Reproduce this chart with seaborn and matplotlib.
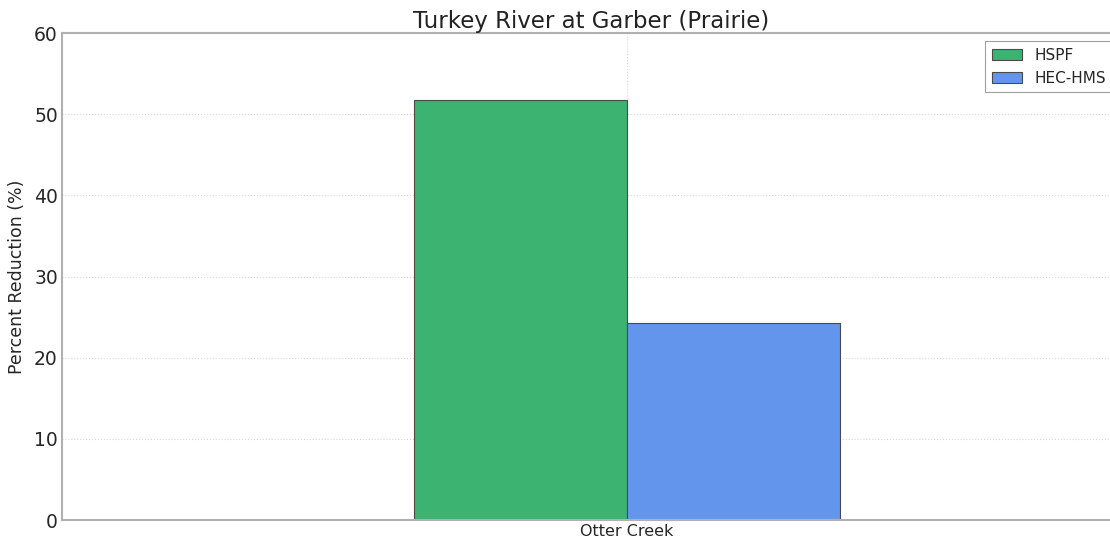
import matplotlib
matplotlib.use("Agg")
import matplotlib.pyplot as plt
import seaborn as sns
import pandas as pd

# donnees
sites = ["Otter Creek"]
models = ["HSPF", "HEC-HMS"]
hspf = [51.8]
hecHms = [24.3]
yTicks = [0, 10, 20, 30, 40, 50, 60]
colors = ["#3cb371", "#6495ed"]

df = pd.DataFrame({
    "site": sites * 2,
    "model": [models[0]] * len(sites) + [models[1]] * len(sites),
    "value": hspf + hecHms,
})

sns.set_style("white")
plt.rcParams['font.family'] = ['DejaVu Sans']

fig = plt.figure(figsize=(11.1, 5.39), dpi=100)
# l'axe depasse a droite comme sur l'image d'origine
ax = fig.add_axes([62/1110, 19/539, 1130/1110, 487/539])

sns.barplot(data=df, x="site", y="value", hue="model", palette=colors,
            width=0.377, saturation=1, edgecolor="#4a4a4a", linewidth=0.8,
            alpha=1, ax=ax, legend=True)

ax.set_xlim(-0.5, 0.5)
ax.set_ylim(0, 60)
ax.set_yticks(yTicks)
ax.set_yticklabels([str(t) for t in yTicks], fontsize=13.5)
ax.tick_params(axis='x', labelsize=11.5, length=0, pad=3)
ax.tick_params(axis='y', length=0, pad=3)
ax.set_xlabel("")
ax.set_ylabel("Percent Reduction (%)", fontsize=12.5, labelpad=6)
ax.grid(True, axis='both', color="#d8d8d8", linestyle=":", linewidth=0.8)
ax.set_axisbelow(True)
for s in ax.spines.values():
    s.set_color("#b0b0b0")
    s.set_linewidth(1.5)

fig.text(591/1110, 1 - 28/539, "Turkey River at Garber (Prairie)", fontsize=16.5,
         ha='center', va='baseline', color="#222222")

leg = ax.legend(loc='upper left', bbox_to_anchor=(985/1110, 1 - 41/539),
                bbox_transform=fig.transFigure, fontsize=11, frameon=True,
                fancybox=False, handlelength=2.0, handletextpad=0.8,
                borderpad=0.45, borderaxespad=0, labelspacing=0.5)
leg.get_frame().set_edgecolor("#888888")
leg.get_frame().set_linewidth(0.8)

fig.savefig("out.png", dpi=100)
